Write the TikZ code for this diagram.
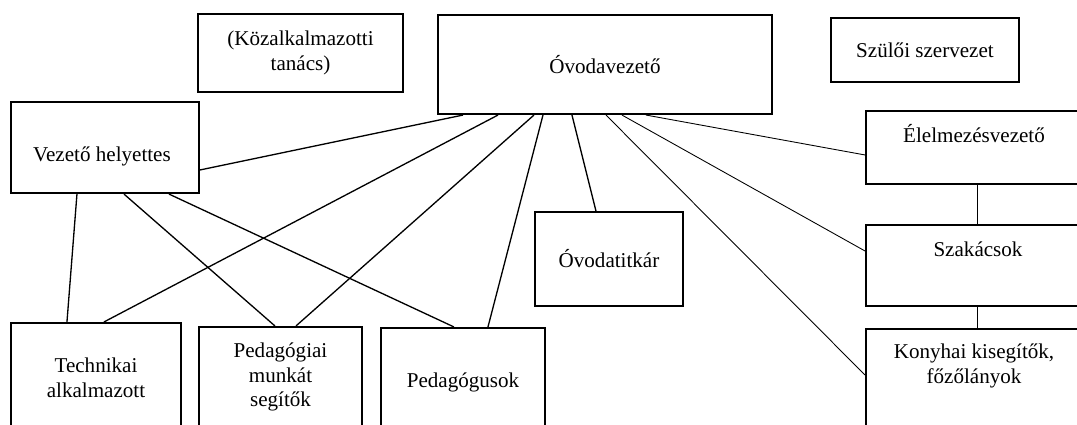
\documentclass[tikz,border=0pt]{standalone}
\usepackage{fontspec}
\setmainfont{Liberation Serif}
\usetikzlibrary{calc}
\begin{document}
\begin{tikzpicture}[x=0.02cm,y=-0.02cm,font=\fontsize{12}{14}\selectfont,line join=miter,
    box/.style={draw,line width=1.2pt,align=center,inner sep=0pt},
    conn/.style={line width=0.75pt},
    thin conn/.style={line width=0.5pt}]
  \useasboundingbox (0,0) rectangle (1077,424);
  \clip (0,0) rectangle (1077,424);
  % felso sor
  \node[box,minimum width=4.1cm,minimum height=1.56cm] (koz) at (300.5,53) {(Közalkalmazotti\\tanács)};
  \node[box,minimum width=6.68cm,minimum height=1.98cm] (ovez) at (605,64.5) {Óvodavezető};
  \node[box,minimum width=3.76cm,minimum height=1.28cm] (szulo) at (925,50) {Szülői szervezet};
  % kozepso sor
  \node[box,minimum width=3.76cm,minimum height=1.82cm] (vhely) at (105,147.5) {};
  \node[anchor=base] (vhely-t) at (102,161) {Vezető helyettes};
  \node[box,minimum width=2.96cm,minimum height=1.88cm] (titkar) at (609,259) {Óvodatitkár};
  % konyha
  \node[box,minimum width=4.36cm,minimum height=1.46cm] (elelm) at (975,147.5) {};
  \node[anchor=base] (elelm-t) at (974,142) {Élelmezésvezető};
  \node[box,minimum width=4.36cm,minimum height=1.62cm] (szakacs) at (975,265.5) {};
  \node[anchor=base] (szakacs-t) at (978,256) {Szakácsok};
  \node[box,minimum width=4.36cm,minimum height=2.42cm] (konyha) at (975,389.5) {};
  \node[align=center] (konyha-t) at (974,366) {Konyhai kisegítők,\\főzőlányok};
  % also sor
  \node[box,minimum width=3.4cm,minimum height=2.2cm] (techn) at (96,378) {Technikai\\alkalmazott};
  \node[box,minimum width=3.26cm,minimum height=2cm] (pedmunk) at (280.5,377) {Pedagógiai\\munkát\\segítők};
  \node[box,minimum width=3.28cm,minimum height=2.16cm] (pedag) at (463,382) {Pedagógusok};
  % vonalak
  \draw[conn] ($(ovez.south west)+(26,0)$) -- ($(vhely.north east)+(0,69)$);
  \draw[conn] ($(ovez.south west)+(61,0)$) -- ($(techn.north west)+(94,0)$);
  \draw[conn] ($(ovez.south west)+(97,0)$) -- ($(pedmunk.north west)+(98,0)$);
  \draw[conn] ($(ovez.south west)+(106,0)$) -- ($(pedag.north west)+(108,0)$);
  \draw[conn] ($(ovez.south west)+(135,0)$) -- ($(titkar.north west)+(62,0)$);
  \draw[thin conn] ($(ovez.south west)+(169,0)$) -- ($(konyha.north west)+(0,47)$);
  \draw[thin conn] ($(ovez.south west)+(185,0)$) -- ($(szakacs.north west)+(0,27)$);
  \draw[thin conn] ($(ovez.south west)+(209,0)$) -- ($(elelm.north west)+(0,45)$);
  \draw[conn] ($(vhely.south west)+(67,0)$) -- ($(techn.north west)+(57,0)$);
  \draw[conn] ($(vhely.south west)+(114,0)$) -- ($(pedmunk.north west)+(77,0)$);
  \draw[conn] ($(vhely.south west)+(159,0)$) -- ($(pedag.north west)+(74,0)$);
  \draw[thin conn] ($(elelm.south west)+(112,0)$) -- ($(szakacs.north west)+(112,0)$);
  \draw[thin conn] ($(szakacs.south west)+(112,0)$) -- ($(konyha.north west)+(112,0)$);
\end{tikzpicture}
\end{document}
